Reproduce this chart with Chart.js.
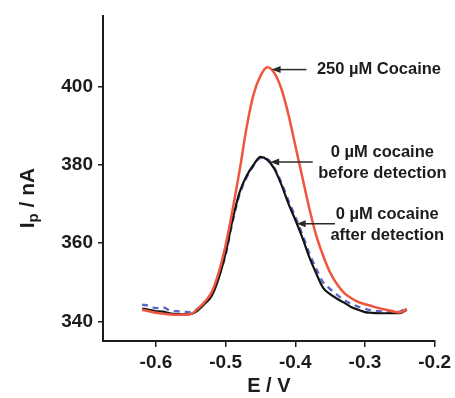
<!DOCTYPE html>
<html>
<head>
<meta charset="utf-8">
<script src="https://cdn.jsdelivr.net/npm/chart.js@4/dist/chart.umd.min.js"></script>
<style>
    html, body { margin: 0; padding: 0; background: #ffffff; }
    #wrap { width: 455px; height: 398px; }
</style>
</head>
<body>
<div id="wrap"><canvas id="dpv-chart" width="455" height="398"></canvas></div>
<script>
// Potential (E / V)
const potential = [
    -0.62, -0.61, -0.60, -0.59, -0.58, -0.57, -0.56, -0.55, -0.54, -0.53,
    -0.52, -0.51, -0.50, -0.49, -0.48, -0.47, -0.46, -0.45, -0.44, -0.43,
    -0.42, -0.41, -0.40, -0.39, -0.38, -0.37, -0.36, -0.35, -0.34, -0.33,
    -0.32, -0.31, -0.30, -0.29, -0.28, -0.27, -0.26, -0.25, -0.24
];
// 250 uM cocaine (red)
const cocaine250 = [
    343.0, 342.6, 342.2, 342.0, 341.8, 341.7, 341.7, 341.9, 343.2, 345.0,
    347.5, 352.5, 359.5, 368.5, 378.5, 389.5, 398.0, 402.8, 405.0, 403.5,
    399.5, 393.0, 385.0, 377.0, 369.0, 362.0, 356.8, 352.5, 349.5, 347.3,
    346.0, 345.0, 344.4, 343.9, 343.4, 343.0, 342.6, 342.3, 343.2
];
// 0 uM cocaine before detection (black)
const blankBefore = [
    343.3, 343.0, 342.6, 342.5, 342.1, 341.9, 341.8, 341.9, 342.8, 344.5,
    346.5, 351.0, 357.5, 366.0, 373.0, 377.2, 380.0, 382.1, 381.3, 379.0,
    375.0, 370.2, 366.0, 361.5, 356.5, 352.3, 348.6, 347.0, 345.8, 344.8,
    343.7, 343.0, 342.4, 342.2, 342.1, 342.1, 342.1, 342.1, 343.0
];
// 0 uM cocaine after detection (blue dashed)
const blankAfter = [
    344.3, 344.0, 343.4, 343.6, 342.8, 342.6, 342.5, 342.3, 343.3, 344.8,
    347.0, 351.5, 357.0, 365.5, 372.5, 376.8, 379.8, 381.8, 381.5, 379.3,
    375.5, 371.0, 366.8, 362.3, 357.5, 353.5, 350.0, 348.3, 346.8, 345.5,
    344.5, 343.8, 343.2, 342.8, 342.6, 342.5, 342.4, 342.5, 344.0
];
// Tick labels
const xTicks = [-0.6, -0.5, -0.4, -0.3, -0.2];
const yTicks = [340, 360, 380, 400];

const toPoints = (values) => potential.map((e, i) => ({ x: e, y: values[i] }));

const FONT = "'Liberation Sans', Arial, sans-serif";
const INK = '#1c1c1c';

// Arrow + text labels, placed in data units
const notes = [
    { tip: [-0.434, 404.4], tail: -0.384, lines: ['250 \u00b5M Cocaine'], textX: -0.369, textY: [404.4], align: 'left' },
    { tip: [-0.436, 380.8], tail: -0.375, lines: ['0 \u00b5M cocaine', 'before detection'], textX: -0.275, textY: [383.2, 377.9], align: 'center' },
    { tip: [-0.398, 365.0], tail: -0.343, lines: ['0 \u00b5M cocaine', 'after detection'], textX: -0.268, textY: [367.3, 362.0], align: 'center' }
];

const notesPlugin = {
    id: 'notes',
    afterDatasetsDraw(chart) {
        const { ctx, scales: { x, y } } = chart;
        ctx.save();
        notes.forEach(note => {
            const tx = x.getPixelForValue(note.tip[0]);
            const ty = y.getPixelForValue(note.tip[1]);
            const ex = x.getPixelForValue(note.tail);
            // shaft
            ctx.strokeStyle = '#2a2a2a';
            ctx.lineWidth = 1.5;
            ctx.beginPath();
            ctx.moveTo(ex, ty);
            ctx.lineTo(tx + 7, ty);
            ctx.stroke();
            // head
            ctx.fillStyle = '#2a2a2a';
            ctx.beginPath();
            ctx.moveTo(tx, ty);
            ctx.lineTo(tx + 9, ty - 3.5);
            ctx.lineTo(tx + 9, ty + 3.5);
            ctx.closePath();
            ctx.fill();
            // text
            ctx.fillStyle = INK;
            ctx.font = `bold 16.5px ${FONT}`;
            ctx.textAlign = note.align;
            ctx.textBaseline = 'middle';
            note.lines.forEach((line, i) => {
                ctx.fillText(line, x.getPixelForValue(note.textX), y.getPixelForValue(note.textY[i]));
            });
        });
        ctx.restore();
    }
};

// Y title with subscript p
const yTitlePlugin = {
    id: 'yTitle',
    afterDraw(chart) {
        const { ctx } = chart;
        ctx.save();
        ctx.translate(34, 198);
        ctx.rotate(-Math.PI / 2);
        ctx.fillStyle = INK;
        ctx.textBaseline = 'alphabetic';
        ctx.textAlign = 'left';
        const big = `bold 21px ${FONT}`;
        const small = `bold 15px ${FONT}`;
        ctx.font = big;
        const wI = ctx.measureText('I').width;
        const wRest = ctx.measureText(' / nA').width;
        ctx.font = small;
        const wP = ctx.measureText('p').width;
        let cx = -(wI + wP + wRest) / 2;
        ctx.font = big;
        ctx.fillText('I', cx, 0);
        cx += wI;
        ctx.font = small;
        ctx.fillText('p', cx, 4);
        cx += wP;
        ctx.font = big;
        ctx.fillText(' / nA', cx, 0);
        ctx.restore();
    }
};

const chartCanvas = document.querySelector('#dpv-chart');
new Chart(chartCanvas, {
    type: 'line',
    data: {
        datasets: [
            {
                label: '250 \u00b5M Cocaine',
                data: toPoints(cocaine250),
                borderColor: '#f0553e',
                borderWidth: 2.5,
                pointRadius: 0,
                cubicInterpolationMode: 'monotone'
            },
            {
                label: '0 \u00b5M cocaine before detection',
                data: toPoints(blankBefore),
                borderColor: '#141414',
                borderWidth: 2.2,
                pointRadius: 0,
                cubicInterpolationMode: 'monotone'
            },
            {
                label: '0 \u00b5M cocaine after detection',
                data: toPoints(blankAfter),
                borderColor: '#5a68c4',
                borderWidth: 2.4,
                borderDash: [6, 5],
                pointRadius: 0,
                cubicInterpolationMode: 'monotone'
            }
        ]
    },
    options: {
        responsive: false,
        animation: false,
        events: [],
        layout: { padding: { top: 12, right: 20, left: 0, bottom: 0 } },
        plugins: {
            legend: { display: false },
            tooltip: { enabled: false }
        },
        scales: {
            x: {
                type: 'linear',
                min: -0.676,
                max: -0.2,
                afterBuildTicks: (axis) => { axis.ticks = xTicks.map(v => ({ value: v })); },
                afterFit: (axis) => { axis.height = 57; },
                border: { display: true, color: INK, width: 2 },
                grid: { drawOnChartArea: false, drawTicks: true, tickLength: 6, color: INK, lineWidth: 1.5 },
                ticks: {
                    color: INK,
                    padding: 4,
                    maxRotation: 0,
                    font: { family: FONT, size: 19, weight: 'bold' },
                    callback: (v) => v.toFixed(1)
                },
                title: {
                    display: true,
                    text: 'E / V',
                    color: INK,
                    padding: { top: 0, bottom: 0 },
                    font: { family: FONT, size: 20, weight: 'bold' }
                }
            },
            y: {
                type: 'linear',
                min: 335,
                max: 418,
                afterBuildTicks: (axis) => { axis.ticks = yTicks.map(v => ({ value: v })); },
                afterFit: (axis) => { axis.width = 103; },
                border: { display: true, color: INK, width: 2 },
                grid: { drawOnChartArea: false, drawTicks: true, tickLength: 5, color: INK, lineWidth: 1.5 },
                ticks: {
                    color: INK,
                    padding: 5,
                    font: { family: FONT, size: 19, weight: 'bold' }
                }
            }
        }
    },
    plugins: [notesPlugin, yTitlePlugin]
});
</script>
</body>
</html>
